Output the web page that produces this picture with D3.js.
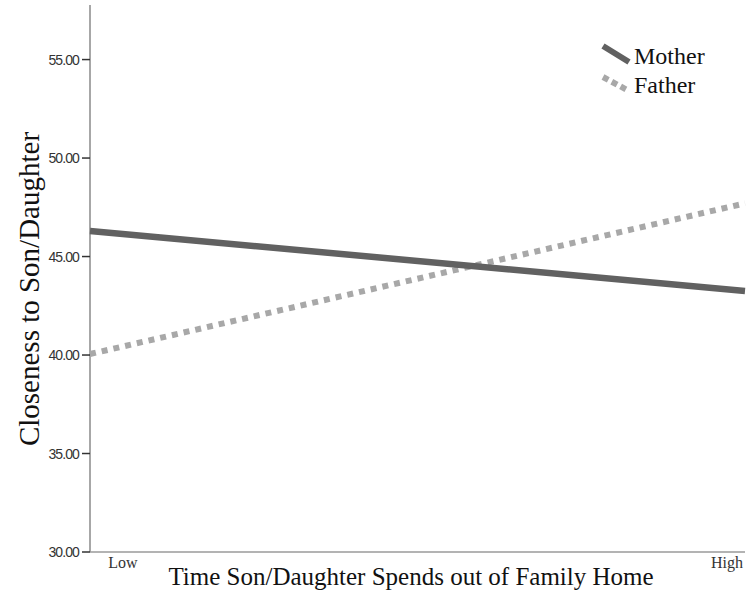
<!DOCTYPE html>
<html>
<head>
<meta charset="utf-8">
<script src="https://d3js.org/d3.v7.min.js"></script>
<style>
  body { margin: 0; background: #fff; }
  .tick-lbl { font-family: "Liberation Sans", Arial, sans-serif; font-size: 14px; fill: #333; letter-spacing: -0.9px; }
  .serif { font-family: "Liberation Serif", "Times New Roman", serif; fill: #111; }
</style>
</head>
<body>
<script>
// data
var levels = ["Low", "High"];
var motherVals = [46.3, 43.25];
var fatherVals = [40.05, 47.7];
var yTicks = [30, 35, 40, 45, 50, 55];

var W = 749, H = 592;
var plotL = 90, plotR = 745, plotT = 5, plotB = 552;

var svg = d3.select("body").append("svg")
  .attr("width", W).attr("height", H);

var x = d3.scaleLinear().domain([0, 1]).range([plotL, plotR]);
var y = d3.scaleLinear().domain([30, 57.77]).range([plotB, plotT]);

// axes
svg.append("line").attr("x1", plotL).attr("x2", plotL).attr("y1", plotT).attr("y2", plotB)
  .attr("stroke", "#8a8a8a").attr("stroke-width", 1.5);
svg.append("line").attr("x1", plotL).attr("x2", plotR).attr("y1", plotB).attr("y2", plotB)
  .attr("stroke", "#9a9a9a").attr("stroke-width", 1.5);

svg.selectAll(".yt").data(yTicks).enter().append("line")
  .attr("x1", plotL - 8).attr("x2", plotL).attr("y1", d => y(d)).attr("y2", d => y(d))
  .attr("stroke", "#333").attr("stroke-width", 1.5);
svg.selectAll(".ytl").data(yTicks).enter().append("text")
  .attr("class", "tick-lbl")
  .attr("x", plotL - 11).attr("y", d => y(d) + 5)
  .attr("text-anchor", "end")
  .text(d => d.toFixed(2));

// x category labels
svg.selectAll(".xl").data(levels).enter().append("text")
  .attr("class", "serif")
  .attr("x", (d, i) => i === 0 ? x(0) + 33 : x(1) - 18)
  .attr("y", 568)
  .attr("text-anchor", "middle")
  .style("font-size", "16px")
  .style("fill", "#333")
  .text(d => d);

// titles
svg.append("text").attr("class", "serif")
  .attr("x", 411).attr("y", 585).attr("text-anchor", "middle")
  .style("font-size", "25px")
  .text("Time Son/Daughter Spends out of Family Home");
svg.append("text").attr("class", "serif")
  .attr("transform", "translate(39,289) rotate(-90)")
  .attr("text-anchor", "middle")
  .style("font-size", "29px")
  .text("Closeness to Son/Daughter");

// lines
var line = d3.line().x((d, i) => x(i)).y(d => y(d));
svg.append("path").datum(fatherVals).attr("d", line)
  .attr("fill", "none").attr("stroke", "#a8a8a8").attr("stroke-width", 6)
  .attr("stroke-dasharray", "6,6");
svg.append("path").datum(motherVals).attr("d", line)
  .attr("fill", "none").attr("stroke", "#616161").attr("stroke-width", 6.5);

// legend
var lg = svg.append("g");
lg.append("line").attr("x1", 603).attr("y1", 46).attr("x2", 629).attr("y2", 62)
  .attr("stroke", "#616161").attr("stroke-width", 6);
lg.append("line").attr("x1", 603).attr("y1", 77).attr("x2", 629).attr("y2", 91)
  .attr("stroke", "#a8a8a8").attr("stroke-width", 6).attr("stroke-dasharray", "6,4");
lg.append("text").attr("class", "serif").attr("x", 634).attr("y", 64)
  .style("font-size", "24px").text("Mother");
lg.append("text").attr("class", "serif").attr("x", 634).attr("y", 93)
  .style("font-size", "24px").text("Father");
</script>
</body>
</html>
